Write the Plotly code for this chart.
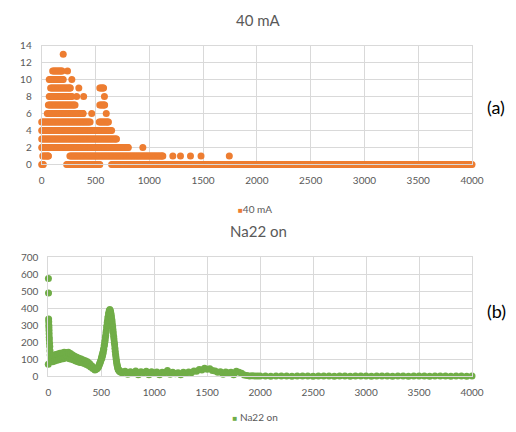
import plotly.graph_objects as go

# ---------------- data ----------------
# (a) 40 mA : counts per channel, written as runs of equal count
a_count = [13, 11, 11, 10, 10, 9, 9, 9, 8, 8, 8, 8, 7, 7, 6, 6, 6, 5, 5, 4, 3, 2, 2,
           1, 1, 1, 1, 1, 1, 1, 0, 0, 0]
a_start = [200, 102, 240, 70, 280, 83, 345, 540, 70, 325, 390, 583, 62, 540, 52, 465, 600, 0, 535, 0, 0, 0, 940,
           10, 262, 1219, 1290, 1383, 1481, 1744, 0, 232, 650]
a_end = [200, 190, 240, 200, 280, 265, 345, 575, 280, 325, 390, 583, 310, 585, 385, 465, 600, 450, 620, 650, 695, 805, 940,
         62, 1126, 1219, 1290, 1383, 1481, 1744, 15, 540, 4000]

# (b) Na22 on : spectrum counts
b_channel = [0, 1, 2, 3, 4, 5, 6, 7, 8, 9, 10, 12, 14, 16, 18,
             20, 30, 40, 50, 60, 70, 80, 90, 100, 110, 120, 130, 140, 150, 160, 170, 180, 190, 200,
             210, 220, 230, 240, 250, 260, 270, 280, 290, 300, 310, 320, 330, 340, 350, 360, 370,
             380, 390, 400, 410, 420, 430, 440, 450, 460, 470, 475, 480, 485, 490, 495,
             500, 503, 506, 509, 512, 515, 518, 521, 524, 527, 530, 533, 536, 539, 542, 545, 548,
             551, 554, 557, 560, 563, 566, 569, 572, 575, 578, 581, 584, 587, 590, 593, 596, 599,
             602, 605, 608, 611, 614, 617, 620, 623, 626, 629, 632, 635, 638, 641, 644, 647, 650,
             653, 656, 659, 662, 665, 670, 675, 680, 685, 690, 695,
             700, 725, 750, 775, 800, 825, 850, 875, 900, 925, 950, 975, 1000, 1025, 1050, 1075,
             1100, 1125, 1150, 1175, 1200, 1225, 1250, 1275, 1300, 1325, 1350, 1375, 1400, 1425,
             1450, 1475, 1500, 1525, 1550, 1575, 1600, 1625, 1650, 1675, 1700, 1725, 1750, 1775,
             1800, 1825, 1850, 1875, 1900, 1925, 1950, 1975, 2000,
             2050, 2100, 2150, 2200, 2250, 2300, 2350, 2400, 2450, 2500, 2550, 2600, 2650, 2700,
             2750, 2800, 2850, 2900, 2950, 3000, 3050, 3100, 3150, 3200, 3250, 3300, 3350, 3400,
             3450, 3500, 3550, 3600, 3650, 3700, 3750, 3800, 3850, 3900, 3950, 4000]
b_counts = [72, 575, 490, 337, 320, 300, 285, 270, 250, 230, 215, 195, 175, 150, 125,
            92, 118, 86, 124, 90, 128, 95, 132, 98, 136, 102, 138, 104, 142, 108, 140, 110, 142, 104,
            134, 100, 126, 96, 118, 90, 112, 86, 106, 82, 102, 80, 96, 76, 92, 70, 86,
            64, 76, 55, 62, 46, 50, 38, 42, 45, 52, 60, 66, 75, 82, 92,
            100, 112, 108, 125, 122, 140, 138, 158, 160, 178, 185, 200, 212, 228, 240, 258, 270,
            288, 300, 318, 330, 345, 352, 368, 372, 385, 382, 392, 386, 380, 372, 362, 350, 335,
            322, 305, 290, 272, 255, 236, 220, 200, 185, 165, 148, 130, 115, 100, 88, 75, 65,
            58, 50, 44, 40, 36, 32, 30, 26, 28, 24, 26,
            22, 30, 12, 28, 20, 32, 10, 27, 22, 30, 9, 28, 20, 26, 10, 25,
            22, 35, 12, 24, 15, 22, 9, 24, 18, 26, 22, 32, 30, 40,
            38, 48, 42, 45, 35, 32, 25, 28, 12, 26, 20, 24, 10, 30,
            25, 18, 8, 5, 3, 4, 2, 3, 2,
            2, 1, 3, 2, 2, 1, 2, 3, 2, 1, 2, 2, 3, 1,
            2, 2, 1, 3, 2, 2, 1, 2, 2, 3, 1, 2, 2, 1,
            2, 3, 2, 1, 2, 2, 3, 1, 2, 2, 1, 2]

x_ticks = [0, 500, 1000, 1500, 2000, 2500, 3000, 3500, 4000]
series_names = ["40 mA", "Na22 on"]

# expand runs of (a) into points (one point every 10 channels)
ax, ay = [], []
for c, s, e in zip(a_count, a_start, a_end):
    pts = list(range(s, e + 1, 10))
    if pts[-1] != e:
        pts.append(e)
    ax += pts
    ay += [c] * len(pts)

ORANGE = "#ED7D31"
GREEN = "#70AD47"
GRID = "#D9D9D9"
TXT = "#595959"
FONT = "Lato"

W, H = 516, 432

fig = go.Figure()
fig.add_trace(go.Scatter(x=ax, y=ay, mode="markers", xaxis="x", yaxis="y",
                         marker=dict(color=ORANGE, size=7), cliponaxis=False, showlegend=False))
fig.add_trace(go.Scatter(x=b_channel, y=b_counts, mode="markers", xaxis="x2", yaxis="y2",
                         marker=dict(color=GREEN, size=7), cliponaxis=False, showlegend=False))
# legend entries (square swatch drawn right next to the text, as in the original)
fig.add_trace(go.Scatter(x=[None], y=[None], mode="markers", legend="legend",
                         name=f'<span style="color:{ORANGE};font-size:8px">■</span>{series_names[0]}',
                         marker=dict(color="rgba(0,0,0,0)", size=1)))
fig.add_trace(go.Scatter(x=[None], y=[None], mode="markers", legend="legend2",
                         name=f'<span style="color:{GREEN};font-size:8px">■</span> {series_names[1]}',
                         marker=dict(color="rgba(0,0,0,0)", size=1)))

def px_x(p):
    return p / W

def px_y(p):
    return 1 - p / H

axis_common = dict(showgrid=True, gridcolor=GRID, gridwidth=1, zeroline=False,
                   showline=True, linecolor=GRID, linewidth=1, mirror=True,
                   ticks="outside", ticklen=7, tickcolor="rgba(0,0,0,0)", automargin=False,
                   tickfont=dict(family=FONT, size=10, color=TXT), fixedrange=True)

fig.update_layout(
    width=W, height=H,
    margin=dict(l=0, r=0, t=0, b=0),
    paper_bgcolor="white", plot_bgcolor="white",
    font=dict(family=FONT, color=TXT),
    hovermode=False,
    xaxis=dict(domain=[px_x(41.7), px_x(472)], range=[0, 4000], tickvals=x_ticks,
               anchor="y", **axis_common),
    yaxis=dict(domain=[px_y(166.7), px_y(46.3)], range=[0, 14], dtick=2,
               anchor="x", **axis_common),
    xaxis2=dict(domain=[px_x(48.3), px_x(472)], range=[0, 4000], tickvals=x_ticks,
                anchor="y2", **axis_common),
    yaxis2=dict(domain=[px_y(381.7), px_y(260.7)], range=[0, 700], dtick=100,
                anchor="x2", **axis_common),
    legend=dict(x=px_x(258 - 20), y=px_y(212), xanchor="center", yanchor="middle", orientation="h",
                font=dict(family=FONT, size=10, color=TXT), itemwidth=30,
                bgcolor="rgba(0,0,0,0)"),
    legend2=dict(x=px_x(258 - 20), y=px_y(423), xanchor="center", yanchor="middle", orientation="h",
                 font=dict(family=FONT, size=10, color=TXT), itemwidth=30,
                 bgcolor="rgba(0,0,0,0)"),
    annotations=[
        dict(text=series_names[0], x=0.5, y=px_y(20.5), xref="paper", yref="paper", showarrow=False,
             xanchor="center", yanchor="middle", font=dict(family=FONT, size=15, color=TXT)),
        dict(text=series_names[1], x=0.5, y=px_y(234), xref="paper", yref="paper", showarrow=False,
             xanchor="center", yanchor="middle", font=dict(family=FONT, size=15, color=TXT)),
        dict(text="(a)", x=px_x(496), y=px_y(109), xref="paper", yref="paper", showarrow=False,
             xanchor="center", yanchor="middle", font=dict(family=FONT, size=18, color="black")),
        dict(text="(b)", x=px_x(496), y=px_y(315), xref="paper", yref="paper", showarrow=False,
             xanchor="center", yanchor="middle", font=dict(family=FONT, size=18, color="black")),
    ],
)

fig.write_html("out.html", config={"displayModeBar": False},
               post_script="document.body.style.margin='0px';")
